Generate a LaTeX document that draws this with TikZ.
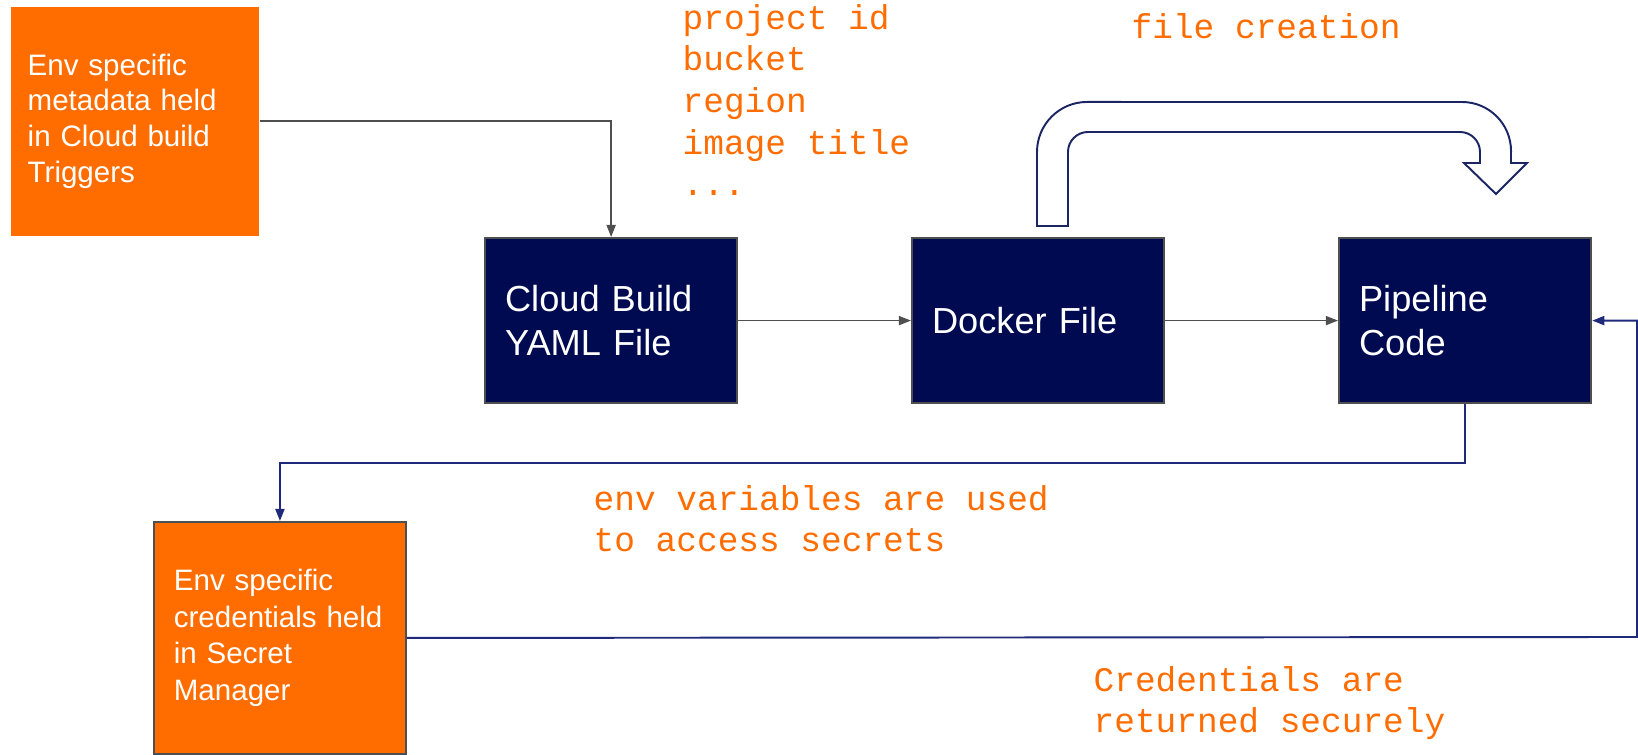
\documentclass[tikz,border=0pt]{standalone}
\usepackage{fontspec}
\setmainfont{Liberation Sans}
\newfontfamily\notefont{Liberation Mono}
\usetikzlibrary{positioning,arrows.meta}
\definecolor{orange600}{HTML}{FF6D01}
\definecolor{navy900}{HTML}{000A50}
\definecolor{gray700}{HTML}{4F4F4F}
\definecolor{indigo800}{HTML}{1F2B7A}
\definecolor{indigo900}{HTML}{1B2563}
\tikzset{
  stage/.style={
    rectangle, draw=gray700, fill=navy900, text=white, line width=0.6pt,
    minimum width=2.52cm, minimum height=1.65cm, text width=2.12cm,
    align=left, inner sep=0pt, anchor=north west,
    font=\fontsize{10.3pt}{12.5pt}\selectfont
  },
  source/.style={
    rectangle, fill=orange600, text=white,
    minimum width=2.48cm, minimum height=2.29cm, text width=2.14cm,
    align=left, inner sep=0pt, anchor=north west,
    font=\fontsize{8.4pt}{10.2pt}\selectfont
  },
  note/.style={
    text=orange600, align=left, inner sep=0pt, anchor=base west,
    font=\notefont\fontsize{9.8pt}{11.85pt}\selectfont
  },
  flow/.style={
    -{Triangle[length=1.2mm,width=0.9mm]},
    line width=0.45pt, draw=gray700
  },
  back/.style={
    -{Triangle[length=1.2mm,width=0.9mm]},
    line width=0.55pt, draw=indigo800
  },
  bigarrow/.style={draw=indigo900, line width=0.55pt, fill=white},
}
\begin{document}
\begin{tikzpicture}[x=0.01cm, y=-0.01cm]
  \useasboundingbox (0,0) rectangle (1638,755);
  % orange sources
  \node[source] (trig) at (10,6) {Env specific\\metadata held\\in Cloud build\\Triggers};
  \node[source, draw=gray700, line width=0.5pt, minimum width=2.52cm, minimum height=2.32cm, text width=2.12cm,
    font=\fontsize{8.4pt}{10.4pt}\selectfont]
    (secret) at (153,521) {Env specific\\credentials held\\in Secret\\Manager};
  % build stages
  \node[stage] (yaml) at (484,237) {Cloud Build\\YAML File};
  \node[stage] (docker) at (911,237) {Docker File};
  \node[stage] (pipe) at (1338,237) {Pipeline\\Code};
  % notes (anchored on their last line)
  \node[note] (vars) at (682,196) {project id\\bucket\\region\\image title\\...};
  \node[note] (create) at (1131,39) {file creation};
  \node[note] (access) at (593,552) {env variables are used\\to access secrets};
  \node[note] (returned) at (1093,733) {Credentials are\\returned securely};
  % connectors
  \draw[flow] (trig.east) -| (yaml.north);
  \draw[flow] (yaml) -- (docker);
  \draw[flow] (docker) -- (pipe);
  \draw[back] (pipe.south) -- ++(0,59) -| (secret.north);
  \coordinate (edge) at (1637,637);
  \draw[back] (secret.east) -- (edge) |- (pipe.east);
  % bent block arrow over the docker stage
  \draw[bigarrow] (1037,226) -- (1037,152) arc[start angle=180, end angle=90, radius=0.5cm]
    -- (1462,102) arc[start angle=90, end angle=0, radius=0.49cm]
    -- (1511,163) -- (1527,163) -- (1496,194) -- (1464,163) -- (1480,163)
    -- (1480,152) arc[start angle=0, end angle=90, radius=0.2cm]
    -- (1088,132) arc[start angle=90, end angle=180, radius=0.2cm]
    -- (1068,226) -- cycle;
\end{tikzpicture}
\end{document}
